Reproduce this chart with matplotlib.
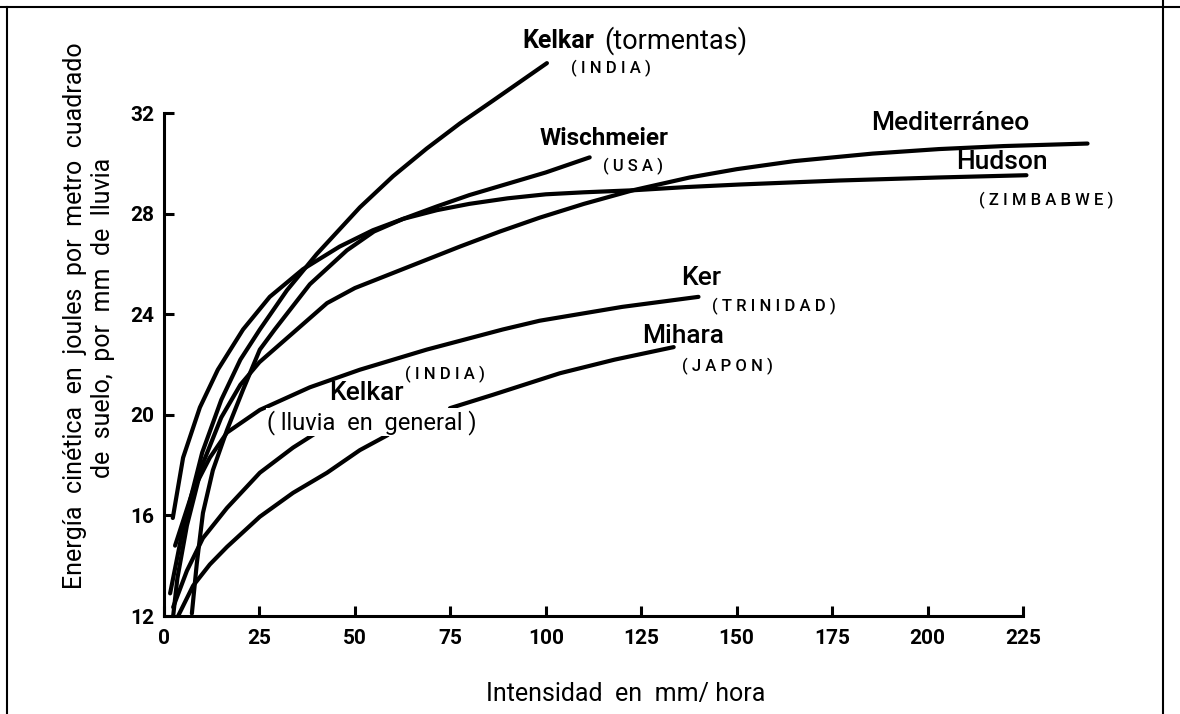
import numpy as np
import matplotlib
matplotlib.use("Agg")
import matplotlib.pyplot as plt
from matplotlib.lines import Line2D

plt.rcParams['font.family'] = ['Roboto', 'DejaVu Sans']

# curvas (intensidad mm/h, energia J/m2/mm)
kt_x = [1.6, 5, 10, 15, 20, 25.1, 32.2, 40, 51.3, 60, 68.8, 77.5, 86.1, 100.3]
kt_y = [12.9, 15.5, 18.5, 20.6, 22.2, 23.4, 24.96, 26.4, 28.26, 29.5, 30.6, 31.6, 32.5, 34.0]

wi_x = [2.3, 5, 9.4, 14.1, 20.7, 27.7, 36.4, 46, 54.7, 62.6, 71.5, 80, 90, 100, 111.5]
wi_y = [15.9, 18.3, 20.3, 21.8, 23.4, 24.7, 25.8, 26.7, 27.35, 27.8, 28.3, 28.75, 29.2, 29.65, 30.25]

hu_x = [7.3, 8.6, 10.2, 12.8, 16.5, 20.7, 25.1, 29, 38.2, 47.9, 55, 62.6, 71.5,
        80, 90, 100, 110, 122.8, 137, 150.8, 177, 203, 225.9]
hu_y = [12.1, 14.1, 16.1, 17.8, 19.4, 21.0, 22.6, 23.4, 25.2, 26.55, 27.3, 27.8, 28.15,
        28.4, 28.62, 28.78, 28.86, 28.94, 29.07, 29.17, 29.33, 29.45, 29.54]

me_x = [2.4, 3.5, 6, 10, 15, 20, 25, 34.8, 42.7, 50, 60, 70, 77.5, 88, 98.4, 110,
        122.8, 137.7, 150, 165, 185.6, 203, 220, 241.9]
me_y = [12.0, 13.5, 15.6, 18.0, 19.9, 21.2, 22.1, 23.4, 24.45, 25.05, 25.65, 26.25, 26.7,
        27.3, 27.85, 28.4, 28.94, 29.45, 29.78, 30.1, 30.4, 30.58, 30.7, 30.8]

ker_x = [2.9, 7.6, 12, 16.5, 25.1, 38.2, 51.3, 68.8, 88.7, 98.4, 120, 140]
ker_y = [14.8, 17.0, 18.3, 19.3, 20.2, 21.1, 21.8, 22.6, 23.4, 23.75, 24.3, 24.7]

# Mihara: tramo bajo y tramo tras el rotulo
mi1_x = [3.7, 7.6, 12, 16.5, 25.1, 33.8, 42.7, 51.3, 58.6]
mi1_y = [12.0, 13.2, 14.05, 14.75, 15.95, 16.9, 17.7, 18.6, 19.2]
mi2_x = [74.9, 86.1, 103.7, 118, 133.5]
mi2_y = [20.27, 20.8, 21.66, 22.2, 22.7]

kg_x = [2.4, 6, 10.2, 16.5, 25.1, 33.8, 40]
kg_y = [12.35, 13.8, 15.1, 16.3, 17.7, 18.7, 19.3]

x_ticks = [0, 25, 50, 75, 100, 125, 150, 175, 200, 225]
y_ticks = [12, 16, 20, 24, 28, 32]

fig = plt.figure(figsize=(11.8, 7.14), dpi=100)
ax = fig.add_axes([164 / 1180, 98 / 714, 859 / 1180, 578 / 714])
ax.set_xlim(0, 225)
ax.set_ylim(12, 35)

lw = 3.0
for xs, ys in [(kt_x, kt_y), (wi_x, wi_y), (hu_x, hu_y), (me_x, me_y),
               (ker_x, ker_y), (mi1_x, mi1_y), (mi2_x, mi2_y), (kg_x, kg_y)]:
    ax.plot(xs, ys, color='black', lw=lw, solid_capstyle='round',
            solid_joinstyle='round', clip_on=False, zorder=2)

for s in ['top', 'right']:
    ax.spines[s].set_visible(False)
ax.spines['left'].set_bounds(12, 32)
ax.spines['left'].set_linewidth(2.2)
ax.spines['bottom'].set_linewidth(2.2)
ax.set_xticks(x_ticks)
ax.set_yticks(y_ticks)
ax.tick_params(direction='in', length=7, width=2.2, labelsize=15)
ax.tick_params(axis='y', pad=7)
ax.tick_params(axis='x', pad=9)
for lab in ax.get_xticklabels() + ax.get_yticklabels():
    lab.set_fontweight('bold')

big = dict(fontsize=19, color='black', zorder=3)
small = dict(fontsize=12, color='black', fontweight='medium', zorder=3)
wbox = dict(facecolor='white', edgecolor='none', pad=1.0)

ax.text(94, 34.9, 'Kelkar', ha='left', va='center', fontweight='bold', fontsize=18, zorder=3)
ax.text(115.2, 34.9, '(tormentas)', ha='left', va='center', fontsize=19.5, zorder=3)
ax.text(117, 33.8, '( I N D I A )', ha='center', va='center', **small)
ax.text(98.4, 31.0, 'Wischmeier', ha='left', va='center', fontweight='bold', fontsize=17.5, zorder=3)
ax.text(122.8, 29.9, '( U S A )', ha='center', va='center', **small)
ax.text(185.3, 31.6, 'Mediterráneo', ha='left', va='center', fontweight='medium', **big)
ax.text(219.4, 30.05, 'Hudson', ha='center', va='center', fontweight='medium', **big)
ax.text(231.2, 28.54, '( Z I M B A B W E )', ha='center', va='center', **small)
ax.text(140.6, 25.44, 'Ker', ha='center', va='center', fontweight='medium', **big)
ax.text(159.7, 24.33, '( T R I N I D A D )', ha='center', va='center', **small)
ax.text(135.9, 23.13, 'Mihara', ha='center', va='center', fontweight='medium', **big)
ax.text(147.6, 21.94, '( J A P O N )', ha='center', va='center', **small)
ax.text(73.6, 21.62, '( I N D I A )', ha='center', va='center', **small)
ax.text(52.9, 20.87, 'Kelkar', ha='center', va='center', fontweight='medium', **big)
ax.text(54.5, 19.71, '( lluvia  en  general )', ha='center', va='center', fontsize=17,
        bbox=wbox, zorder=3)

ax.set_xlabel('Intensidad  en  mm/ hora', fontsize=18)
ax.xaxis.set_label_coords((626 - 164) / 859, -(682 - 616) / 578)
fig.text(75 / 1180, 1 - 316 / 714, 'Energía  cinética  en  joules  por  metro  cuadrado',
         rotation=90, ha='center', va='center', fontsize=18)
fig.text(103 / 1180, 1 - 318 / 714, 'de  suelo,  por  mm  de  lluvia',
         rotation=90, ha='center', va='center', fontsize=18)

# marco de la pagina escaneada
fig.add_artist(Line2D([0, 1], [1 - 7 / 714, 1 - 7 / 714], color='black', lw=1.5))
fig.add_artist(Line2D([7 / 1180, 7 / 1180], [0, 1 - 7 / 714], color='black', lw=1.5))
fig.add_artist(Line2D([1163 / 1180, 1163 / 1180], [0, 1], color='black', lw=1.5))

fig.savefig('out.png', dpi=100, facecolor='white')
